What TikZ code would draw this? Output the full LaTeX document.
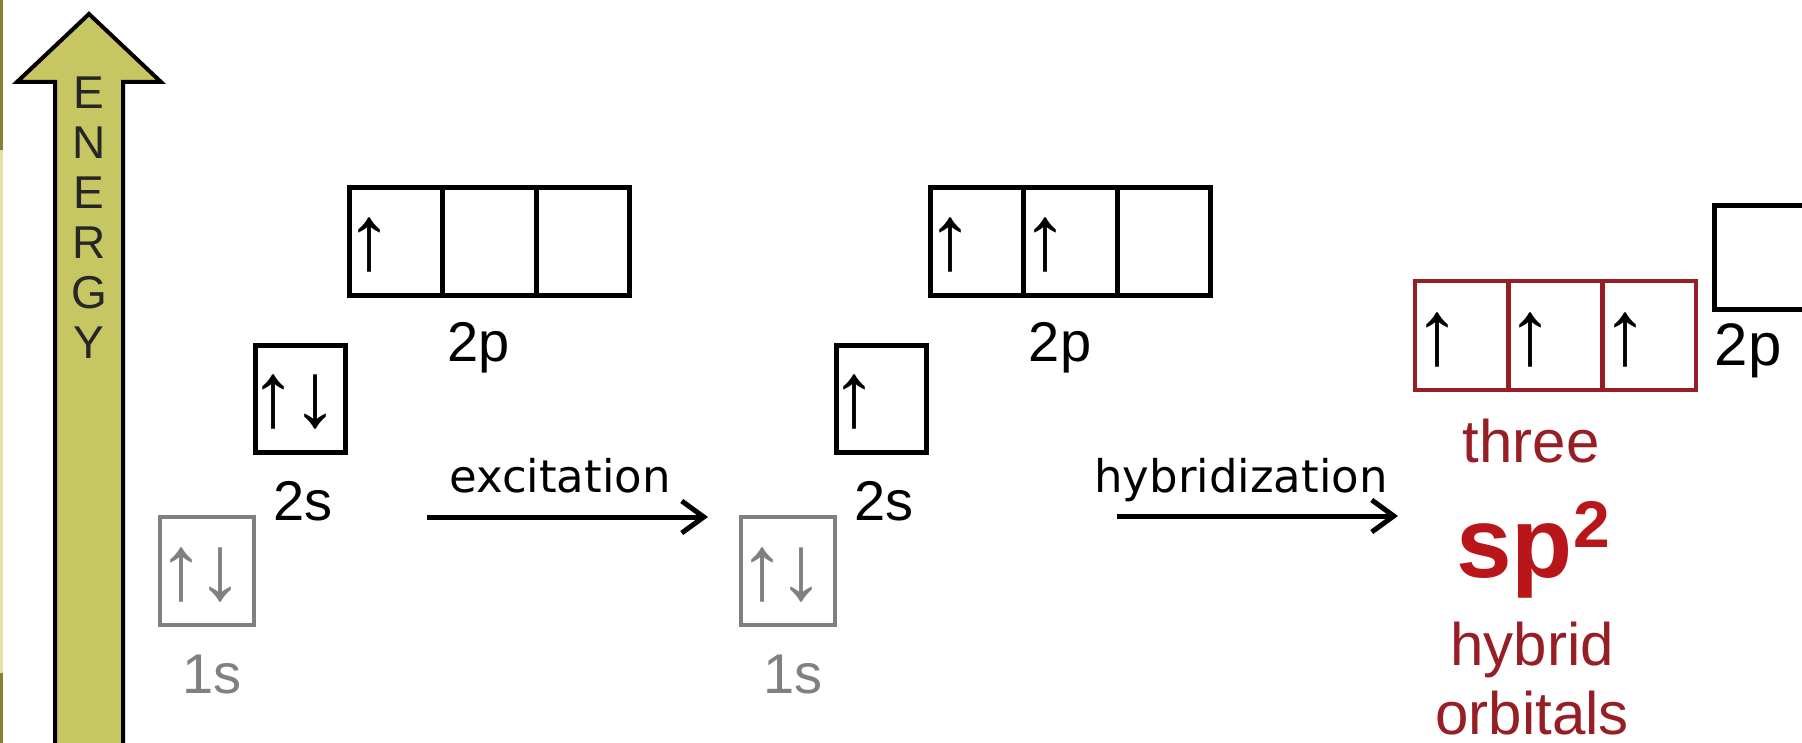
\documentclass[tikz,border=0pt]{standalone}
\usepackage{fontspec}
\setmainfont{Liberation Sans}
\newfontfamily\verd{DejaVu Sans}
\usetikzlibrary{arrows.meta}
\definecolor{olivefill}{RGB}{198,198,98}
\definecolor{hybred}{RGB}{150,30,36}
\definecolor{sptwo}{RGB}{185,22,26}
\definecolor{coregray}{RGB}{128,128,128}
\definecolor{edgeolive}{RGB}{130,130,50}
\definecolor{edgepale}{RGB}{225,225,165}
\begin{document}
\begin{tikzpicture}[x=1pt,y=-1pt,
  orb/.style={draw=black, line width=5pt, inner sep=0pt, minimum width=93.3pt, minimum height=108pt},
  core/.style={draw=coregray, line width=4pt, inner sep=0pt, minimum width=94pt, minimum height=108pt},
  hyb/.style={draw=hybred, line width=4.5pt, inner sep=0pt, minimum width=93.7pt, minimum height=109pt},
  spin/.style={inner sep=0pt, font=\fontsize{92}{92}\selectfont},
  lbl/.style={anchor=base, inner sep=0pt, font=\fontsize{56}{56}\selectfont},
  proc/.style={anchor=base, inner sep=0pt, font=\verd\fontsize{45}{45}\selectfont},
  redtxt/.style={anchor=base, inner sep=0pt, text=hybred, font=\fontsize{60}{60}\selectfont},
  letter/.style={inner sep=0pt, text=black!85, font=\fontsize{46}{46}\selectfont},
  procarrow/.style={line width=5pt, -{Straight Barb[length=22pt,width=32pt]}}
]
\useasboundingbox (0,0) rectangle (1802,743);
\begin{scope}
  \clip (0,0) rectangle (1802,743);
  \fill[white] (0,0) rectangle (1802,743);
  \fill[edgepale] (0,0) rectangle (3,743);
  \fill[edgeolive] (0,0) rectangle (3,150);
  \fill[edgeolive] (0,673) rectangle (3,743);
  % energy arrow
  \draw[line width=4pt, fill=olivefill, line join=miter]
    (89,14) -- (161,82) -- (123,82) -- (123,760) -- (55,760) -- (55,82) -- (17,82) -- cycle;
  % right 2p box (cut by the edge)
  \node[orb, minimum width=93.5pt, minimum height=104pt] (pR) at (1761.25,257.5) {};
\end{scope}
\foreach \l [count=\i from 0] in {E,N,E,R,G,Y}
  \node[letter] (en\i) at (89,{93+50*\i}) {\l};

% ---- ground state ----
\node[core] (s1L) at (207,571) {};
\node[orb, minimum width=90pt, minimum height=107pt] (s2L) at (300.5,399) {};
\node[orb] (p1L) at (396.2,241.5) {};
\node[orb] (p2L) at (489.5,241.5) {};
\node[orb] (p3L) at (582.8,241.5) {};
\node[spin, text=coregray] (a1L) at (181,575) {↑};
\node[spin, text=coregray] (b1L) at (220,575) {↓};
\node[spin] (a2L) at (273,402) {↑};
\node[spin] (b2L) at (315,402) {↓};
\node[spin] (a3L) at (369,245) {↑};
\node[lbl, text=coregray] (l1sL) at (212,693) {1s};
\node[lbl] (l2sL) at (303,520) {2s};
\node[lbl] (l2pL) at (479,362) {2p};

% ---- excited state ----
\node[core] (s1M) at (788,571) {};
\node[orb, minimum width=90pt, minimum height=107pt] (s2M) at (881.5,399) {};
\node[orb] (p1M) at (977.2,241.5) {};
\node[orb] (p2M) at (1070.5,241.5) {};
\node[orb] (p3M) at (1163.8,241.5) {};
\node[spin, text=coregray] (a1M) at (762,575) {↑};
\node[spin, text=coregray] (b1M) at (801,575) {↓};
\node[spin] (a2M) at (854,402) {↑};
\node[spin] (a3M) at (950,245) {↑};
\node[spin] (a4M) at (1045,245) {↑};
\node[lbl, text=coregray] (l1sM) at (793,693) {1s};
\node[lbl] (l2sM) at (884,520) {2s};
\node[lbl] (l2pM) at (1060,362) {2p};

% ---- hybrid state ----
\node[hyb] (h1) at (1461.8,335.5) {};
\node[hyb] (h2) at (1555.5,335.5) {};
\node[hyb] (h3) at (1649.2,335.5) {};
\node[spin] (ah1) at (1437,340) {↑};
\node[spin] (ah2) at (1530,340) {↑};
\node[spin] (ah3) at (1625,340) {↑};
\node[lbl, font=\fontsize{60}{60}\selectfont] (l2pR) at (1748,365) {2p};
\node[redtxt] (three) at (1531,462) {three};
\node[anchor=base, inner sep=0pt, text=sptwo, font=\fontsize{100}{100}\selectfont\bfseries] (sp) at (1533,577) {sp\raisebox{30pt}{\fontsize{66}{66}\selectfont 2}};
\node[redtxt] (hybrid) at (1532,665) {hybrid};
\node[redtxt] (orbs) at (1532,734) {orbitals};

% ---- process arrows ----
\node[proc] (exc) at (560,492) {excitation};
\node[proc] (hyb) at (1241,492) {hybridization};
\coordinate (exS) at (427,517);
\coordinate (exE) at (708,517);
\coordinate (hyS) at (1117,516);
\coordinate (hyE) at (1398,516);
\draw[procarrow] (exS) -- (exE);
\draw[procarrow] (hyS) -- (hyE);
\end{tikzpicture}
\end{document}
